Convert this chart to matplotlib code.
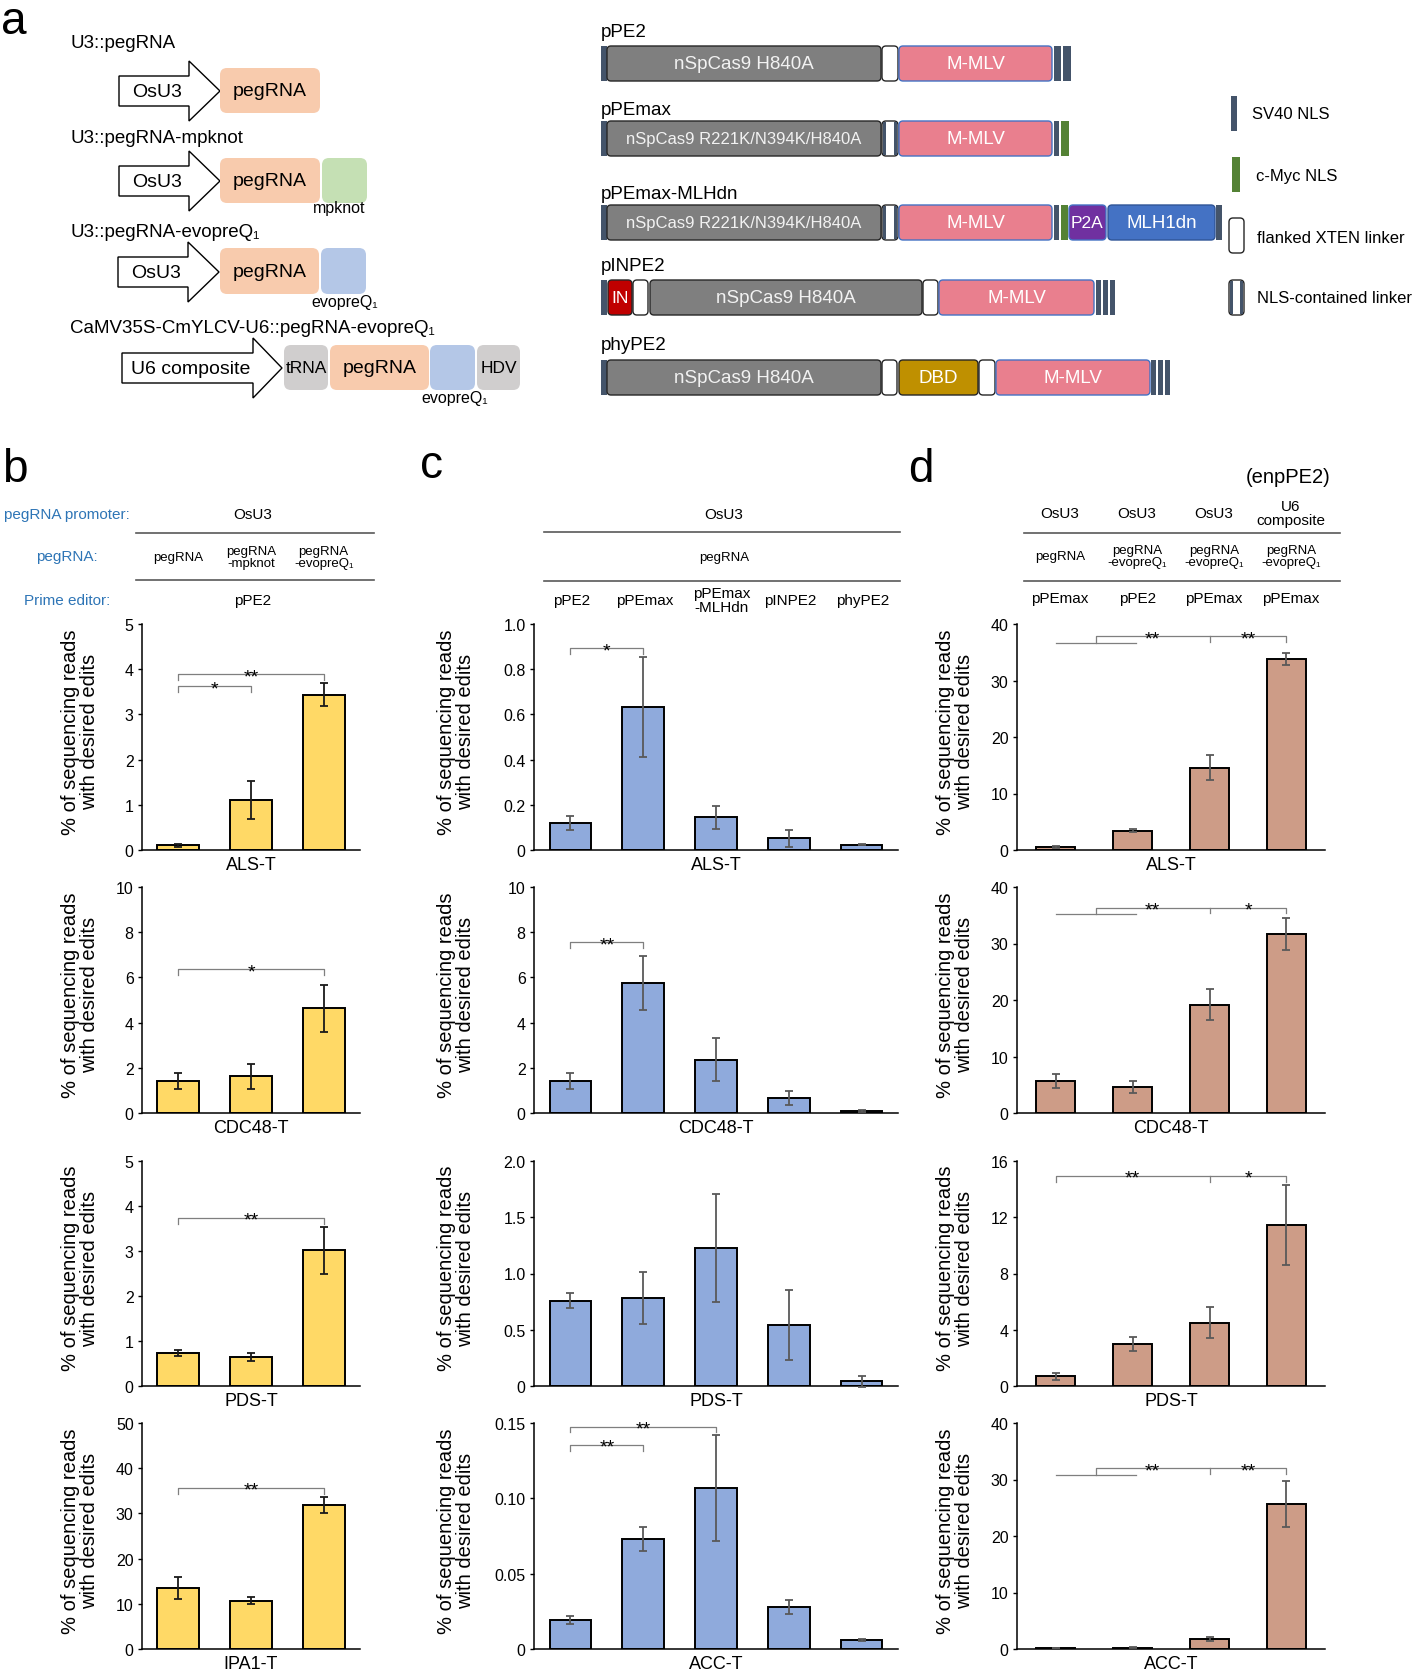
import numpy as np
import matplotlib
matplotlib.use('Agg')
import matplotlib.pyplot as plt
from matplotlib.patches import Polygon, FancyBboxPatch, Rectangle
from matplotlib.transforms import blended_transform_factory

plt.rcParams['font.family'] = ['Liberation Sans', 'DejaVu Sans']

# ---------------- data ----------------
targets_b = ['ALS-T', 'CDC48-T', 'PDS-T', 'IPA1-T']
targets_cd = ['ALS-T', 'CDC48-T', 'PDS-T', 'ACC-T']

b_mean = [[0.10, 1.10, 3.44], [1.42, 1.62, 4.63], [0.74, 0.64, 3.02], [13.5, 10.7, 31.8]]
b_err = [[0.03, 0.42, 0.26], [0.36, 0.57, 1.04], [0.07, 0.09, 0.52], [2.5, 0.85, 1.8]]
b_yticks = [[0, 1, 2, 3, 4, 5], [0, 2, 4, 6, 8, 10], [0, 1, 2, 3, 4, 5], [0, 10, 20, 30, 40, 50]]
b_sig = [[(0, 1, 3.62, '*'), (0, 2, 3.89, '**')], [(0, 2, 6.37, '*')],
         [(0, 2, 3.74, '**')], [(0, 2, 35.7, '**')]]

c_mean = [[0.118, 0.632, 0.145, 0.052, 0.024],
          [1.42, 5.75, 2.36, 0.67, 0.09],
          [0.76, 0.78, 1.23, 0.544, 0.043],
          [0.0193, 0.0729, 0.107, 0.0279, 0.0058]]
c_err = [[0.031, 0.22, 0.05, 0.037, 0.004],
         [0.36, 1.19, 0.96, 0.30, 0.04],
         [0.07, 0.23, 0.48, 0.31, 0.05],
         [0.0025, 0.0081, 0.035, 0.0047, 0.0007]]
c_yticks = [[0, 0.2, 0.4, 0.6, 0.8, 1.0], [0, 2, 4, 6, 8, 10],
            [0, 0.5, 1.0, 1.5, 2.0], [0, 0.05, 0.10, 0.15]]
c_ylabels = [['0', '0.2', '0.4', '0.6', '0.8', '1.0'], ['0', '2', '4', '6', '8', '10'],
             ['0', '0.5', '1.0', '1.5', '2.0'], ['0', '0.05', '0.10', '0.15']]
c_sig = [[(0, 1, 0.893, '*')], [(0, 1, 7.56, '**')], [],
         [(0, 1, 0.1356, '**'), (0, 2, 0.1476, '**')]]

d_mean = [[0.55, 3.43, 14.56, 33.8], [5.67, 4.57, 19.2, 31.65],
          [0.71, 2.96, 4.5, 11.47], [0.12, 0.25, 1.7, 25.6]]
d_err = [[0.2, 0.2, 2.25, 1.05], [1.2, 1.07, 2.75, 2.85],
         [0.25, 0.5, 1.1, 2.83], [0.03, 0.05, 0.35, 4.05]]
d_yticks = [[0, 10, 20, 30, 40], [0, 10, 20, 30, 40], [0, 4, 8, 12, 16], [0, 10, 20, 30, 40]]
# (kind, line y, upper y, tick bottom, star left, star right)
d_sig = [('group', 36.6, 37.8, 36.9, '**', '**'), ('group', 35.2, 36.3, 35.4, '**', '*'),
         ('span', 14.96, 14.96, 14.5, '**', '*'), ('group', 30.85, 32.0, 31.0, '**', '**')]

b_labels = ['pegRNA', 'pegRNA\n-mpknot', 'pegRNA\n-evopreQ₁']
c_editors = ['pPE2', 'pPEmax', 'pPEmax\n-MLHdn', 'pINPE2', 'phyPE2']
d_promoters = ['OsU3', 'OsU3', 'OsU3', 'U6\ncomposite']
d_pegrna = ['pegRNA', 'pegRNA\n-evopreQ₁', 'pegRNA\n-evopreQ₁', 'pegRNA\n-evopreQ₁']
d_editors = ['pPEmax', 'pPE2', 'pPEmax', 'pPEmax']

# ---------------- figure ----------------
W, H = 1416, 1674
fig = plt.figure(figsize=(W / 100, H / 100), dpi=100)
ov = fig.add_axes([0, 0, 1, 1])
ov.set_xlim(0, W)
ov.set_ylim(H, 0)
ov.axis('off')


def pax(x0, y0, x1, y1):
    return fig.add_axes([x0 / W, 1 - y1 / H, (x1 - x0) / W, (y1 - y0) / H])


BLUE_TXT = '#2E75B6'
GREY = '#7f7f7f'
ylab = '% of sequencing reads\nwith desired edits'

# panel letters
for t, x, y in [('a', 1, 34), ('b', 2, 482), ('c', 420, 478), ('d', 908, 482)]:
    ov.text(x, y, t, fontsize=33, va='baseline', ha='left')

# ---------------- panel a, left ----------------
def arrow(x0, xh, xt, yc, hb, hh, label, fs=14):
    pts = [(x0, yc - hb), (xh, yc - hb), (xh, yc - hh), (xt, yc), (xh, yc + hh),
           (xh, yc + hb), (x0, yc + hb)]
    ov.add_patch(Polygon(pts, closed=True, fc='white', ec='black', lw=1.0))
    ov.text((x0 + xh) / 2 + 3, yc, label, ha='center', va='center', fontsize=fs)


def rbox(x0, x1, y0, y1, fc, ec='none', lw=0.0, r=7, text=None, fs=13.5, tc='black'):
    ov.add_patch(FancyBboxPatch((x0, y0), x1 - x0, y1 - y0,
                                boxstyle='round,pad=0,rounding_size=%g' % r,
                                fc=fc, ec=ec, lw=lw))
    if text:
        ov.text((x0 + x1) / 2, (y0 + y1) / 2, text, ha='center', va='center',
                fontsize=fs, color=tc)


PEACH, GREEN_BOX, BLUE_BOX, GREY_BOX = '#F8CBAD', '#C5E0B4', '#B4C7E7', '#D0CECE'

ov.text(70, 43, 'U3::pegRNA', fontsize=13.5, va='center')
arrow(119, 189, 220, 92, 15, 30, 'OsU3')
rbox(220, 320, 69, 114, PEACH, text='pegRNA', fs=14)

ov.text(70, 138, 'U3::pegRNA-mpknot', fontsize=13.5, va='center')
arrow(119, 189, 220, 182, 15, 30, 'OsU3')
rbox(220, 320, 159, 204, PEACH, text='pegRNA', fs=14)
rbox(322, 367, 159, 204, GREEN_BOX)
ov.text(339, 208, 'mpknot', fontsize=11.5, ha='center', va='center')

ov.text(70, 232, 'U3::pegRNA-evopreQ₁', fontsize=13.5, va='center')
arrow(118, 188, 219, 273, 15, 30, 'OsU3')
rbox(220, 319, 249, 295, PEACH, text='pegRNA', fs=14)
rbox(321, 366, 249, 295, BLUE_BOX)
ov.text(345, 302, 'evopreQ₁', fontsize=11.5, ha='center', va='center')

ov.text(70, 328, 'CaMV35S-CmYLCV-U6::pegRNA-evopreQ₁', fontsize=13.5, va='center')
arrow(122, 253, 282, 369, 15, 30, 'U6 composite')
rbox(284, 328, 346, 391, GREY_BOX, text='tRNA', fs=12.5)
rbox(330, 429, 346, 391, PEACH, text='pegRNA', fs=14)
rbox(430, 475, 346, 391, BLUE_BOX)
rbox(477, 520, 346, 391, GREY_BOX, text='HDV', fs=12.5)
ov.text(455, 398, 'evopreQ₁', fontsize=11.5, ha='center', va='center')

# ---------------- panel a, right ----------------
NAVY, MYC = '#44546A', '#548235'
seg_style = {
    'cas9': ('#7F7F7F', '#262626', '#F2F2F2'),
    'mmlv': ('#E97F8E', '#4472C4', 'white'),
    'link': ('white', '#262626', 'black'),
    'nlslink': ('white', '#262626', 'black'),
    'p2a': ('#7030A0', '#4472C4', 'white'),
    'mlh': ('#4472C4', '#2F5597', 'white'),
    'in': ('#C00000', '#262626', 'white'),
    'dbd': ('#BF9000', '#262626', 'white'),
}

pe_rows = [
    ('pPE2', 32, 47, 82, [('nls', 601, 607), ('cas9', 607, 881, 'nSpCas9 H840A'), ('link', 882, 898),
                          ('mmlv', 899, 1052, 'M-MLV'), ('nls', 1054, 1061), ('nls', 1063, 1071)]),
    ('pPEmax', 110, 122, 157, [('nls', 601, 607), ('cas9', 607, 881, 'nSpCas9 R221K/N394K/H840A'),
                               ('nlslink', 882, 898), ('mmlv', 899, 1052, 'M-MLV'),
                               ('nls', 1054, 1059), ('myc', 1061, 1069)]),
    ('pPEmax-MLHdn', 194, 206, 241, [('nls', 601, 607), ('cas9', 607, 881, 'nSpCas9 R221K/N394K/H840A'),
                                     ('nlslink', 882, 898), ('mmlv', 899, 1052, 'M-MLV'),
                                     ('nls', 1054, 1059), ('myc', 1061, 1068), ('p2a', 1069, 1106, 'P2A'),
                                     ('mlh', 1108, 1215, 'MLH1dn'), ('nls', 1216, 1222)]),
    ('pINPE2', 266, 281, 316, [('nls', 601, 607), ('in', 608, 632, 'IN'), ('link', 633, 648),
                               ('cas9', 650, 922, 'nSpCas9 H840A'), ('link', 923, 938),
                               ('mmlv', 939, 1094, 'M-MLV'), ('nls', 1096, 1101), ('nls', 1103, 1108),
                               ('nls', 1110, 1115)]),
    ('phyPE2', 345, 361, 396, [('nls', 601, 607), ('cas9', 607, 881, 'nSpCas9 H840A'), ('link', 882, 897),
                               ('dbd', 899, 978, 'DBD'), ('link', 979, 995), ('mmlv', 996, 1150, 'M-MLV'),
                               ('nls', 1151, 1156), ('nls', 1158, 1163), ('nls', 1165, 1170)]),
]

for name, ly, y0, y1, segs in pe_rows:
    ov.text(601, ly, name, fontsize=13.5, va='center', ha='left')
    for seg in segs:
        kind, x0, x1 = seg[0], seg[1], seg[2]
        if kind == 'nls':
            ov.add_patch(Rectangle((x0, y0), x1 - x0, y1 - y0, fc=NAVY, ec='none'))
            continue
        if kind == 'myc':
            ov.add_patch(Rectangle((x0, y0), x1 - x0, y1 - y0, fc=MYC, ec='none'))
            continue
        fc, ec, tc = seg_style[kind]
        txt = seg[3] if len(seg) > 3 else None
        fs = 12 if (txt and len(txt) > 15) else 13.5
        if kind in ('in', 'p2a'):
            fs = 12.5
        rbox(x0, x1, y0, y1, fc, ec=ec, lw=1.0, r=4, text=txt, fs=fs, tc=tc)
        if kind == 'nlslink':
            ov.add_patch(Rectangle((x0 + 1, y0 + 1), 3, y1 - y0 - 2, fc=NAVY, ec='none'))
            ov.add_patch(Rectangle((x1 - 4, y0 + 1), 3, y1 - y0 - 2, fc=NAVY, ec='none'))

# legend
ov.add_patch(Rectangle((1231, 97), 6, 35, fc=NAVY, ec='none'))
ov.text(1252, 114, 'SV40 NLS', fontsize=12, va='center')
ov.add_patch(Rectangle((1232, 158), 8, 35, fc=MYC, ec='none'))
ov.text(1256, 176, 'c-Myc NLS', fontsize=12, va='center')
rbox(1229, 1244, 219, 254, 'white', ec='#262626', lw=1.0, r=4)
ov.text(1257, 238, 'flanked XTEN linker', fontsize=12, va='center')
rbox(1229, 1244, 281, 316, 'white', ec='#262626', lw=1.0, r=4)
ov.add_patch(Rectangle((1230, 282), 3, 33, fc=NAVY, ec='none'))
ov.add_patch(Rectangle((1240, 282), 3, 33, fc=NAVY, ec='none'))
ov.text(1257, 298, 'NLS-contained linker', fontsize=12, va='center')

# ---------------- bar panels ----------------
rows = [(625, 851), (888, 1114), (1162, 1387), (1424, 1650)]


def style_axes(ax, yticks, ylabels, ymax, target, n):
    ax.set_xlim(-0.5, n - 0.5)
    ax.set_ylim(0, ymax)
    ax.set_yticks(yticks)
    ax.set_yticklabels(ylabels)
    ax.set_xticks([])
    for sp in ['top', 'right']:
        ax.spines[sp].set_visible(False)
    for sp in ['left', 'bottom']:
        ax.spines[sp].set_linewidth(1.1)
    ax.tick_params(axis='y', length=3, width=1, labelsize=11.5, pad=3)
    ax.set_xlabel(target, fontsize=13, labelpad=4.5)
    ax.patch.set_alpha(0)


def draw_bars(ax, mean, err, color, ecolor, width):
    x = np.arange(len(mean))
    ax.bar(x, mean, width, color=color, edgecolor='black', linewidth=1.4, zorder=2)
    ax.errorbar(x, mean, yerr=err, fmt='none', ecolor=ecolor, elinewidth=1.3,
                capsize=3, capthick=1.3, zorder=3, clip_on=False)


def star(ax, x, y, txt):
    ax.annotate(txt, (x, y), xytext=(0, -5), textcoords='offset points',
                ha='center', va='baseline', fontsize=14, annotation_clip=False)


def bracket(ax, i, j, y, txt, ymax):
    leg = 0.026 * ymax
    ax.plot([i, i, j, j], [y - leg, y, y, y - leg], color=GREY, lw=0.9, clip_on=False)
    star(ax, (i + j) / 2, y, txt)


def ylabel_at(xc, y0, y1):
    ov.text(xc, (y0 + y1) / 2 - 6, ylab, rotation=90, ha='center', va='center',
            fontsize=14.5, linespacing=1.0, multialignment='center')


axes_b, axes_c, axes_d = [], [], []
for r, (y0, y1) in enumerate(rows):
    # b
    ax = pax(142, y0, 360, y1)
    draw_bars(ax, b_mean[r], b_err[r], '#FFD966', '#1a1a1a', 0.58)
    ymax = b_yticks[r][-1]
    style_axes(ax, b_yticks[r], [str(v) for v in b_yticks[r]], ymax, targets_b[r], 3)
    for i, j, y, t in b_sig[r]:
        bracket(ax, i, j, y, t, ymax)
    ylabel_at(80, y0, y1)
    axes_b.append(ax)

    # c
    ax = pax(534, y0, 898, y1)
    draw_bars(ax, c_mean[r], c_err[r], '#8FAADC', '#595959', 0.57)
    ymax = c_yticks[r][-1]
    style_axes(ax, c_yticks[r], c_ylabels[r], ymax, targets_cd[r], 5)
    for i, j, y, t in c_sig[r]:
        bracket(ax, i, j, y, t, ymax)
    ylabel_at(456, y0, y1)
    axes_c.append(ax)

    # d
    ax = pax(1017, y0, 1325, y1)
    draw_bars(ax, d_mean[r], d_err[r], '#CD9C87', '#595959', 0.51)
    ymax = d_yticks[r][-1]
    style_axes(ax, d_yticks[r], [str(v) for v in d_yticks[r]], ymax, targets_cd[r], 4)
    kind, yg, ytop, ybot, t1, t2 = d_sig[r]
    if kind == 'group':
        ax.plot([0, 1.05], [yg, yg], color=GREY, lw=0.9, clip_on=False)
        ax.plot([0.52, 0.52, 3, 3], [yg, ytop, ytop, ybot], color=GREY, lw=0.9, clip_on=False)
        ax.plot([2, 2], [ytop, ybot], color=GREY, lw=0.9, clip_on=False)
        star(ax, 1.26, ytop, t1)
        star(ax, 2.5, ytop, t2)
    else:
        ax.plot([0, 0, 3, 3], [ybot, ytop, ytop, ybot], color=GREY, lw=0.9, clip_on=False)
        ax.plot([2, 2], [ytop, ybot], color=GREY, lw=0.9, clip_on=False)
        star(ax, 1.0, ytop, t1)
        star(ax, 2.5, ytop, t2)
    ylabel_at(955, y0, y1)
    axes_d.append(ax)

# ---------------- headers ----------------
LINE_C = '#595959'
# b
ov.text(67, 515, 'pegRNA promoter:', color=BLUE_TXT, fontsize=11, ha='center', va='center')
ov.text(67, 557, 'pegRNA:', color=BLUE_TXT, fontsize=11, ha='center', va='center')
ov.text(67, 601, 'Prime editor:', color=BLUE_TXT, fontsize=11, ha='center', va='center')
ov.text(253, 515, 'OsU3', fontsize=11, ha='center', va='center')
ov.text(253, 601, 'pPE2', fontsize=11, ha='center', va='center')
ov.plot([136, 374], [534, 534], color=LINE_C, lw=1.2)
ov.plot([136, 374], [581, 581], color=LINE_C, lw=1.2)
tb = blended_transform_factory(axes_b[0].transData, ov.transData)
for i, t in enumerate(b_labels):
    fig.text(i, 558, t, transform=tb, fontsize=9.5, ha='center', va='center', linespacing=1.1)

# c
ov.text(724, 515, 'OsU3', fontsize=11, ha='center', va='center')
ov.text(724, 558, 'pegRNA', fontsize=9.5, ha='center', va='center')
ov.plot([544, 900], [533, 533], color=LINE_C, lw=1.2)
ov.plot([544, 900], [582, 582], color=LINE_C, lw=1.2)
tc_ = blended_transform_factory(axes_c[0].transData, ov.transData)
for i, t in enumerate(c_editors):
    fig.text(i + (0.08 if '\n' in t else 0.02), 601, t, transform=tc_, fontsize=11,
             ha='center', va='center', linespacing=1.0)

# d
ov.text(1288, 477, '(enpPE2)', fontsize=14.5, ha='center', va='center')
ov.plot([1024, 1340], [534, 534], color=LINE_C, lw=1.2)
ov.plot([1024, 1340], [582, 582], color=LINE_C, lw=1.2)
td = blended_transform_factory(axes_d[0].transData, ov.transData)
for i in range(4):
    fig.text(i + 0.06, 514, d_promoters[i], transform=td, fontsize=11, ha='center',
             va='center', linespacing=1.05)
    fig.text(i + 0.06, 557, d_pegrna[i], transform=td, fontsize=9.5, ha='center',
             va='center', linespacing=1.1)
    fig.text(i + 0.06, 599, d_editors[i], transform=td, fontsize=11, ha='center', va='center')

fig.savefig('out.png', dpi=100)
